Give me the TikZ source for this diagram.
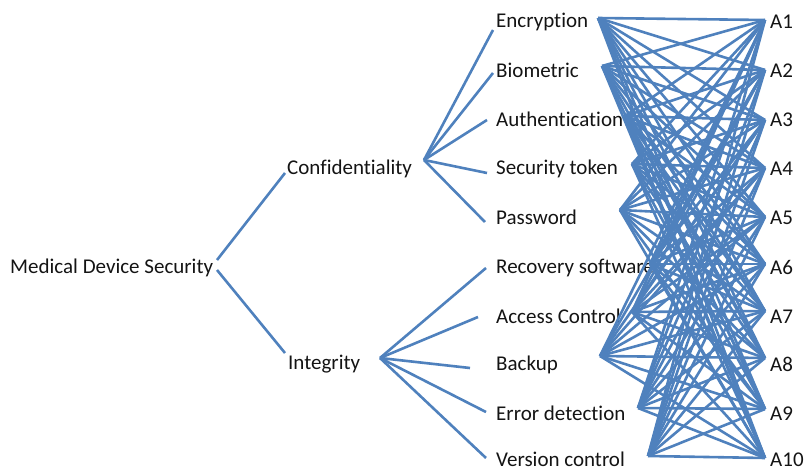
\documentclass[tikz,border=0pt]{standalone}
\usepackage{fontspec}
\setmainfont[Ligatures=NoCommon]{Carlito}
\usetikzlibrary{positioning}
\definecolor{linkblue}{RGB}{79,129,189}
\definecolor{txtgray}{RGB}{20,20,20}

\begin{document}
\begin{tikzpicture}[x=1pt, y=-1pt,
    font=\fontsize{21}{24}\selectfont,
    lbl/.style={anchor=west, inner sep=0pt, text=txtgray, yshift=-1.5pt},
    link/.style={draw=linkblue, line width=2.6pt}]
\useasboundingbox (0,0) rectangle (809,473);

% goal and the two main criteria
\node[lbl] (mds) at (10,266) {Medical Device Security};
\node[lbl] (conf) at (287,167) {Confidentiality};
\node[lbl] (integ) at (288,363) {Integrity};

\coordinate (mds-up) at (217,260);
\coordinate (mds-dn) at (217,270);
\coordinate (conf-in) at (285,173);
\coordinate (integ-in) at (285,353);
\coordinate (conf-out) at (424,160);
\coordinate (integ-out) at (380,358);

% sub-criteria: label / y / left end / right end
\foreach \i/\txt/\y/\lx/\ly/\rx/\ry in {
    1/Encryption/20/493/30/598/18,
    2/Biometric/69/493/73/602/66,
    3/Authentication/118/487/120/625/116,
    4/Security token/167/487/173/632/164,
    5/Password/216/485/222/620/210,
    6/Recovery software/266/486/268/650/264,
    7/Access Control/315/478/317/632/312,
    8/Backup/363/470/368/600/356,
    9/Error detection/412/486/412/638/408,
    10/Version control/458/486/458/648/456}{
  \node[lbl] (c\i) at (496,\y) {\txt};
  \coordinate (c\i-in) at (\lx,\ly);
  \coordinate (c\i-out) at (\rx,\ry);
}

% alternatives
\foreach \j/\y/\ry in {1/20/20, 2/69/70, 3/118/120, 4/167/168, 5/216/217,
    6/266/264, 7/315/311, 8/363/358, 9/412/409, 10/458/458}{
  \node[lbl] (a\j) at (770,\y) {A\j};
  \coordinate (a\j-in) at (765,\ry);
}

\draw[link] (mds-up) -- (conf-in);
\draw[link] (mds-dn) -- (integ-in);
\foreach \i in {1,...,5}
  \draw[link] (conf-out) -- (c\i-in);
\foreach \i in {6,...,10}
  \draw[link] (integ-out) -- (c\i-in);

% every sub-criterion to every alternative
\foreach \i in {1,...,10}
  \foreach \j in {1,...,10}
    \draw[link] (c\i-out) -- (a\j-in);
\end{tikzpicture}
\end{document}
